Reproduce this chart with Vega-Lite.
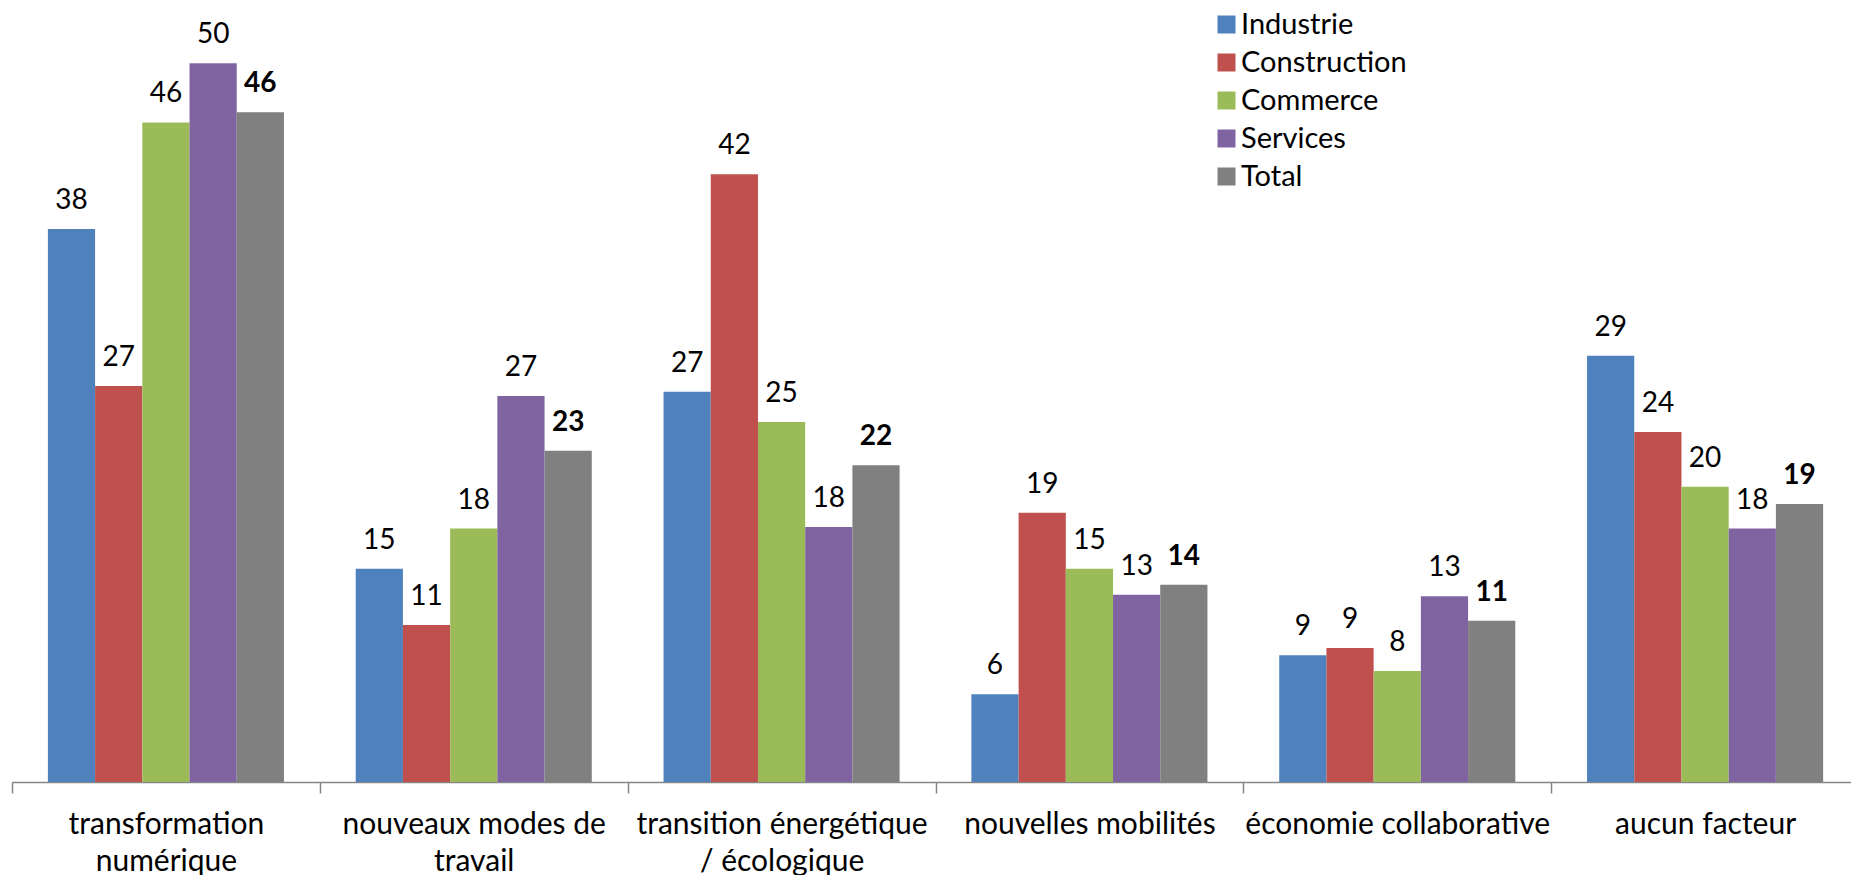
{
  "$schema": "https://vega.github.io/schema/vega-lite/v6.json",
  "width": 1839,
  "height": 782,
  "autosize": {"type": "none"},
  "padding": {"left": 12, "top": 0, "right": 0, "bottom": 93},
  "background": "white",
  "config": {"view": {"stroke": null}, "font": "Lato"},
  "data": {"values": [
    {"facteur": "transformation numérique", "secteur": "Industrie", "valeur": 38.4, "label": "38"},
    {"facteur": "transformation numérique", "secteur": "Construction", "valeur": 27.5, "label": "27"},
    {"facteur": "transformation numérique", "secteur": "Commerce", "valeur": 45.8, "label": "46"},
    {"facteur": "transformation numérique", "secteur": " Services", "valeur": 49.9, "label": "50"},
    {"facteur": "transformation numérique", "secteur": "Total", "valeur": 46.5, "label": "46"},
    {"facteur": "nouveaux modes de travail", "secteur": "Industrie", "valeur": 14.8, "label": "15"},
    {"facteur": "nouveaux modes de travail", "secteur": "Construction", "valeur": 10.9, "label": "11"},
    {"facteur": "nouveaux modes de travail", "secteur": "Commerce", "valeur": 17.6, "label": "18"},
    {"facteur": "nouveaux modes de travail", "secteur": " Services", "valeur": 26.8, "label": "27"},
    {"facteur": "nouveaux modes de travail", "secteur": "Total", "valeur": 23.0, "label": "23"},
    {"facteur": "transition énergétique / écologique", "secteur": "Industrie", "valeur": 27.1, "label": "27"},
    {"facteur": "transition énergétique / écologique", "secteur": "Construction", "valeur": 42.2, "label": "42"},
    {"facteur": "transition énergétique / écologique", "secteur": "Commerce", "valeur": 25.0, "label": "25"},
    {"facteur": "transition énergétique / écologique", "secteur": " Services", "valeur": 17.7, "label": "18"},
    {"facteur": "transition énergétique / écologique", "secteur": "Total", "valeur": 22.0, "label": "22"},
    {"facteur": "nouvelles mobilités", "secteur": "Industrie", "valeur": 6.1, "label": "6"},
    {"facteur": "nouvelles mobilités", "secteur": "Construction", "valeur": 18.7, "label": "19"},
    {"facteur": "nouvelles mobilités", "secteur": "Commerce", "valeur": 14.8, "label": "15"},
    {"facteur": "nouvelles mobilités", "secteur": " Services", "valeur": 13.0, "label": "13"},
    {"facteur": "nouvelles mobilités", "secteur": "Total", "valeur": 13.7, "label": "14"},
    {"facteur": "économie collaborative", "secteur": "Industrie", "valeur": 8.8, "label": "9"},
    {"facteur": "économie collaborative", "secteur": "Construction", "valeur": 9.3, "label": "9"},
    {"facteur": "économie collaborative", "secteur": "Commerce", "valeur": 7.7, "label": "8"},
    {"facteur": "économie collaborative", "secteur": " Services", "valeur": 12.9, "label": "13"},
    {"facteur": "économie collaborative", "secteur": "Total", "valeur": 11.2, "label": "11"},
    {"facteur": "aucun facteur", "secteur": "Industrie", "valeur": 29.6, "label": "29"},
    {"facteur": "aucun facteur", "secteur": "Construction", "valeur": 24.3, "label": "24"},
    {"facteur": "aucun facteur", "secteur": "Commerce", "valeur": 20.5, "label": "20"},
    {"facteur": "aucun facteur", "secteur": " Services", "valeur": 17.6, "label": "18"},
    {"facteur": "aucun facteur", "secteur": "Total", "valeur": 19.3, "label": "19"}
  ]},
  "encoding": {
    "x": {
      "field": "facteur", "type": "nominal",
      "sort": ["transformation numérique", "nouveaux modes de travail", "transition énergétique / écologique", "nouvelles mobilités", "économie collaborative", "aucun facteur"],
      "scale": {"range": [0, 1847], "paddingInner": 0, "paddingOuter": 0},
      "axis": {
        "title": null, "labelAngle": 0, "labelFontSize": 30, "labelColor": "black", "labelLimit": 0,
        "labelLineHeight": 37, "labelPadding": 16, "labelBaseline": "top",
        "tickBand": "extent", "tickSize": 11, "tickColor": "#868686", "tickWidth": 1.5,
        "domainColor": "#868686", "domainWidth": 1.5,
        "labelExpr": "datum.value === 'transformation numérique' ? ['transformation', 'numérique'] : datum.value === 'nouveaux modes de travail' ? ['nouveaux modes de', 'travail'] : datum.value === 'transition énergétique / écologique' ? ['transition énergétique', '/ écologique'] : datum.value"
      }
    },
    "xOffset": {
      "field": "secteur", "type": "nominal",
      "sort": ["Industrie", "Construction", "Commerce", " Services", "Total"],
      "scale": {"paddingOuter": 0.76, "paddingInner": 0}
    },
    "y": {"field": "valeur", "type": "quantitative", "scale": {"domain": [0, 54.3], "nice": false}, "axis": null}
  },
  "layer": [
    {
      "mark": {"type": "bar"},
      "encoding": {
        "color": {
          "field": "secteur", "type": "nominal",
          "sort": ["Industrie", "Construction", "Commerce", " Services", "Total"],
          "scale": {"domain": ["Industrie", "Construction", "Commerce", " Services", "Total"], "range": ["#4F81BD", "#C0504D", "#9BBB59", "#8064A2", "#808080"]},
          "legend": {
            "title": null, "orient": "none", "legendX": 1200, "legendY": 10, "padding": 0,
            "symbolType": "square", "symbolSize": 324, "symbolStrokeWidth": 0,
            "labelFontSize": 29, "labelColor": "black", "labelOffset": 0, "rowPadding": 8, "labelLimit": 0
          }
        }
      }
    },
    {
      "transform": [{"filter": "datum.secteur !== 'Total'"}],
      "mark": {"type": "text", "baseline": "bottom", "dy": -14, "fontSize": 28, "color": "black"},
      "encoding": {"text": {"field": "label"}}
    },
    {
      "transform": [{"filter": "datum.secteur === 'Total'"}],
      "mark": {"type": "text", "baseline": "bottom", "dy": -14, "fontSize": 28, "fontWeight": "bold", "color": "black"},
      "encoding": {"text": {"field": "label"}}
    }
  ]
}
